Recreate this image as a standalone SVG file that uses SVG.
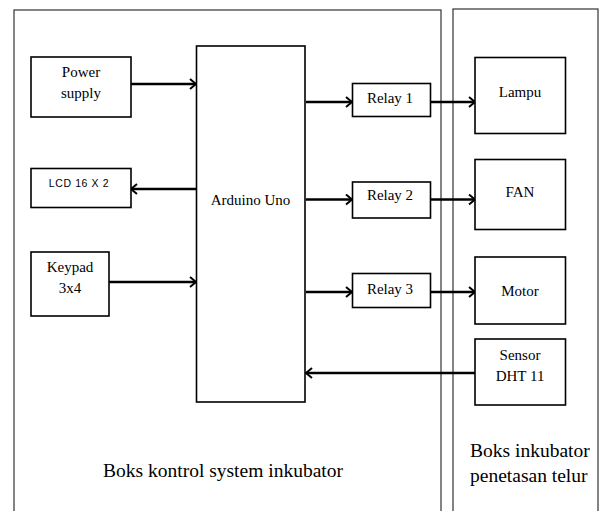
<svg xmlns="http://www.w3.org/2000/svg" width="602" height="511" viewBox="0 0 602 511">
<defs>
<style>
.bg{fill:#fff}
.cont{fill:none;stroke:#333;stroke-width:1.2}
.box{fill:#fff;stroke:#000;stroke-width:1.6}
.t{font-family:'Liberation Serif','Times New Roman','DejaVu Serif',serif;font-size:15px;fill:#000;text-anchor:middle}
.s{font-family:'Liberation Sans',Arial,sans-serif;font-size:10.5px;fill:#000;text-anchor:middle;letter-spacing:0.6px}
.big{font-family:'Liberation Serif','Times New Roman','DejaVu Serif',serif;font-size:19.5px;fill:#000}
.ar{fill:none;stroke:#000;stroke-width:2.4;marker-end:url(#ah)}
</style>
<marker id="ah" viewBox="-8 -6 10 12" refX="0" refY="0" markerWidth="10" markerHeight="12" markerUnits="userSpaceOnUse" orient="auto">
<path d="M-6,-5 L0,0 L-6,5" fill="none" stroke="#000" stroke-width="2"/>
</marker>
</defs>
<rect class="bg" x="0" y="0" width="602" height="511"/>
<g id="kontrol-container">
<rect class="cont" x="14" y="10" width="427" height="520"/>
<text class="big" x="103" y="477" font-family="Liberation Serif, serif">Boks kontrol system inkubator</text>
</g>
<g id="inkubator-container">
<rect class="cont" x="453" y="9" width="145" height="520"/>
<text class="big" x="470" y="457">Boks inkubator</text>
<text class="big" x="470" y="482">penetasan telur</text>
</g>
<g id="connectors">
<line class="ar" x1="131" y1="84" x2="196" y2="84"/>
<line class="ar" x1="196" y1="189" x2="131" y2="189"/>
<line class="ar" x1="109" y1="282" x2="196" y2="282"/>
<line class="ar" x1="306" y1="102" x2="352" y2="102"/>
<line class="ar" x1="306" y1="199.5" x2="352" y2="199.5"/>
<line class="ar" x1="306" y1="292" x2="352" y2="292"/>
<line class="ar" x1="431" y1="102" x2="475" y2="102"/>
<line class="ar" x1="431" y1="199.5" x2="475" y2="199.5"/>
<line class="ar" x1="431" y1="292" x2="475" y2="292"/>
<line class="ar" x1="475" y1="373" x2="306" y2="373"/>
</g>
<g id="power-supply">
<rect class="box" x="31" y="57" width="100" height="60"/>
<text class="t" x="81" y="77">Power</text>
<text class="t" x="81" y="98">supply</text>
</g>
<g id="lcd">
<rect class="box" x="31" y="168.5" width="100" height="39"/>
<text class="s" x="79" y="187">LCD 16 X 2</text>
</g>
<g id="keypad">
<rect class="box" x="31" y="252" width="78" height="64"/>
<text class="t" x="70" y="272">Keypad</text>
<text class="t" x="70" y="293">3x4</text>
</g>
<g id="arduino">
<rect class="box" x="196.5" y="46" width="108.5" height="356"/>
<text class="t" x="250.5" y="205">Arduino Uno</text>
</g>
<g id="relay1">
<rect class="box" x="352.5" y="83.5" width="78" height="33"/>
<text class="t" x="390" y="103">Relay 1</text>
</g>
<g id="relay2">
<rect class="box" x="352.5" y="182" width="78" height="36"/>
<text class="t" x="390" y="200">Relay 2</text>
</g>
<g id="relay3">
<rect class="box" x="352.5" y="273.5" width="78" height="34"/>
<text class="t" x="390" y="293.5">Relay 3</text>
</g>
<g id="lampu">
<rect class="box" x="475" y="57.5" width="90.5" height="76"/>
<text class="t" x="520" y="97">Lampu</text>
</g>
<g id="fan">
<rect class="box" x="475" y="159.5" width="90.5" height="70"/>
<text class="t" x="520" y="197">FAN</text>
</g>
<g id="motor">
<rect class="box" x="475" y="257" width="90.5" height="67"/>
<text class="t" x="520" y="296">Motor</text>
</g>
<g id="sensor">
<rect class="box" x="475" y="339" width="90.5" height="66"/>
<text class="t" x="520" y="359.5">Sensor</text>
<text class="t" x="520" y="381">DHT 11</text>
</g>
</svg>
